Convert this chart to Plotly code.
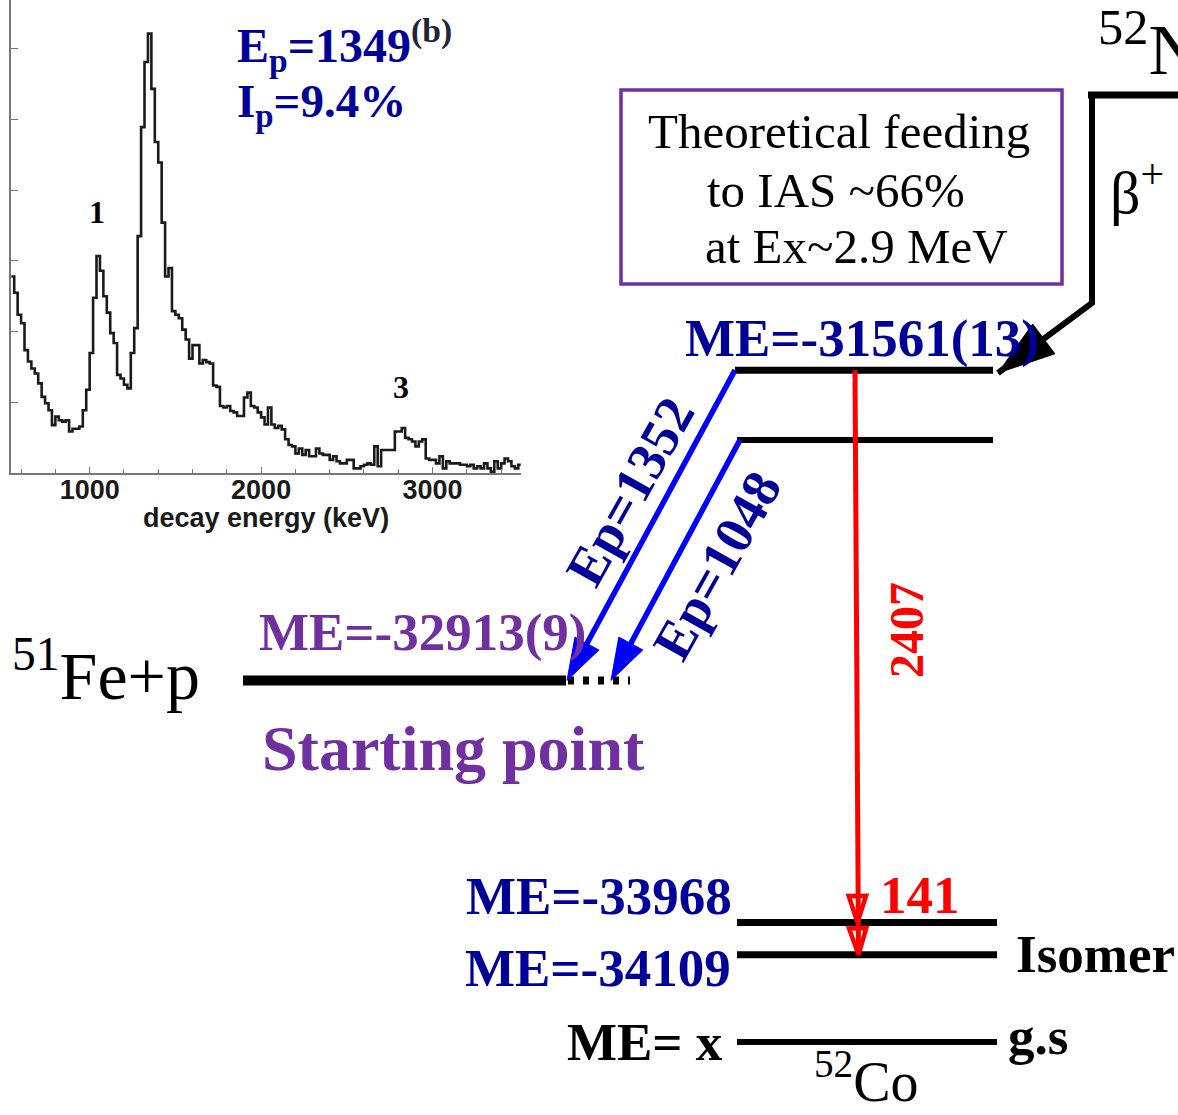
import numpy as np
import plotly.graph_objects as go

W, H = 1178, 1115
SERIF = "Liberation Serif"
SANS = "Liberation Sans"
NAVY = "#000099"
PURPLE = "#7030A0"

# ---- inset: proton decay-energy spectrum, 20 keV bins ----
bin_start_kev = 540
bin_width_kev = 20
spectrum_counts = [
    278, 255, 224, 212, 174, 158, 148, 141, 127, 108,
    99, 89, 68, 80, 75, 73, 75, 59, 63, 63,
    66, 89, 118, 170, 248, 307, 286, 250, 227, 198,
    184, 139, 134, 125, 120, 170, 205, 335, 489, 581,
    621, 543, 468, 439, 354, 278, 290, 229, 224, 219,
    203, 189, 162, 181, 181, 155, 160, 157, 155, 124,
    122, 95, 93, 95, 88, 86, 81, 81, 107, 114,
    95, 93, 86, 79, 69, 93, 69, 64, 67, 62,
    48, 40, 38, 28, 35, 26, 33, 24, 24, 35,
    28, 26, 26, 19, 24, 17, 14, 14, 19, 19,
    7, 7, 10, 12, 14, 12, 38, 10, 33, 33,
    33, 33, 59, 59, 64, 50, 48, 45, 38, 45,
    48, 21, 19, 19, 14, 24, 7, 17, 14, 14,
    14, 12, 12, 10, 12, 7, 10, 7, 14, 7,
    2, 17, 7, 14, 21, 17, 10, 7, 12,
]
energy_tick_vals = [1000, 2000, 3000]
count_tick_vals = [100, 200, 300, 400, 500, 600]
peak_tags = ["1", "3"]
peak_tag_kev = [1040, 2815]
peak_tag_counts = [369, 122]
ias_ep_kev = 1349
ias_ip_pct = 9.4

# ---- level scheme (mass excess, keV) ----
me_ias, me_ias_err = -31561, 13
me_threshold, me_threshold_err = -32913, 9
proton_ep = [1352, 1048]
gamma_kev = [2407, 141]
ias_feeding_pct = 66
ias_ex_mev = 2.9

me_second = me_threshold + proton_ep[1]
me_co_excited = me_ias - gamma_kev[0]
me_co_isomer = me_co_excited - gamma_kev[1]

edges = bin_start_kev + bin_width_kev * np.arange(len(spectrum_counts) + 1)
step_y = spectrum_counts + [spectrum_counts[-1]]

fig = go.Figure()

# histogram (inset)
fig.add_trace(go.Scatter(
    x=edges, y=step_y, mode="lines", line=dict(color="#1a1a1a", width=2.6, shape="hv"),
    xaxis="x", yaxis="y", hoverinfo="skip", showlegend=False,
))


def level(x0, x1, y, width, yaxis="y2", dash="solid"):
    fig.add_trace(go.Scatter(
        x=[x0, x1], y=[y, y], mode="lines", xaxis="x2", yaxis=yaxis,
        line=dict(color="black", width=width, dash=dash),
        hoverinfo="skip", showlegend=False,
    ))


def arrow_path(xs, ys, color, width, head_size, symbol="arrow", yaxis="y2",
               backoff=None, head_line=0):
    """Polyline whose final (and flagged) points carry an arrowhead marker."""
    n = len(xs)
    if isinstance(symbol, str):
        symbols = ["circle"] * (n - 1) + [symbol]
    else:
        symbols = symbol
    opac = [0 if s == "circle" else 1 for s in symbols]
    line = dict(color=color, width=width)
    if backoff is not None:
        line["backoff"] = backoff
    fig.add_trace(go.Scatter(
        x=xs, y=ys, mode="lines+markers", xaxis="x2", yaxis=yaxis, line=line,
        marker=dict(symbol=symbols, size=head_size, color=color, opacity=opac,
                    angleref="previous", line=dict(color=color, width=head_line)),
        hoverinfo="skip", showlegend=False,
    ))


# levels placed on the mass-excess axis
level(735, 993, me_ias, 7)
level(737, 993, me_second, 6)
level(243, 566, me_threshold, 10)
level(568, 630, me_threshold, 8, dash="6px,9px")
level(737, 997, me_co_excited, 7)
level(737, 997, me_co_isomer, 7)
# schematic lines (no mass value)
level(737, 997, 1042, 6, yaxis="y3")
level(1088, 1190, 95, 7, yaxis="y3")

# proton emission from the IAS and from the lower state
arrow_path([735, 567], [me_ias, me_threshold], "#0000FF", 5.5, 44, head_line=1)
arrow_path([740, 611], [me_second, me_threshold], "#0000FF", 5.5, 44, head_line=1)
# gamma cascade through the 141 keV step
arrow_path([855, 857.5, 858.5], [me_ias, me_co_excited, me_co_isomer], "#FF0000", 5, 28,
           symbol=["circle", "arrow-open", "arrow-open"], backoff=0, head_line=4.5)
# beta decay of 52Ni
arrow_path([1092, 1092, 998], [92, 303, 373], "black", 6, 60, yaxis="y3", head_line=1)

annotations = []


def label(x, y, text, size, color="black", bold=False, angle=0, xanchor="center",
          yanchor="middle", family=SERIF, xref="x2", yref="y3"):
    annotations.append(dict(
        xref=xref, yref=yref, x=x, y=y, text=text, showarrow=False, textangle=angle,
        xanchor=xanchor, yanchor=yanchor,
        font=dict(family=family, size=size, color=color, weight="bold" if bold else "normal"),
    ))


# inset texts
for tag, e, c in zip(peak_tags, peak_tag_kev, peak_tag_counts):
    label(e, c, tag, 32, bold=True, xref="x", yref="y")
label(235, 45, f"E<sub>p</sub>={ias_ep_kev}<sup><span style='color:#23233a'>(b)</span></sup>",
      48, NAVY, bold=True, xanchor="left")
label(235, 104, f"I<sub>p</sub>={ias_ip_pct}%", 47, NAVY, bold=True, xanchor="left")
label(266, 518, "decay energy (keV)", 27, "#1a1a1a", bold=True, family=SANS)

# level-scheme texts
label(839, 131, "Theoretical feeding", 49)
label(836, 190, f"to IAS ~{ias_feeding_pct}%", 49)
label(856, 246, f"at Ex~{ias_ex_mev} MeV", 49)
label(1096, 44, "<sup>52</sup>Ni", 72, xanchor="left")
label(1108, 188, "β<sup>+</sup>", 60, xanchor="left")
label(862, 338, f"ME={me_ias}({me_ias_err})", 53, NAVY, bold=True)
label(423, 632, f"ME={me_threshold}({me_threshold_err})", 53, PURPLE, bold=True)
label(453, 748, "Starting point", 64, PURPLE, bold=True)
label(10, 671, "<sup>51</sup>Fe+p", 68, xanchor="left")
label(630, 492, f"Ep={proton_ep[0]}", 54, NAVY, bold=True, angle=-60.8)
label(717, 566, f"Ep={proton_ep[1]}", 54, NAVY, bold=True, angle=-60.8)
label(906, 630, f"{gamma_kev[0]}", 48, "#FF0000", bold=True, angle=-90)
label(920, 895, f"{gamma_kev[1]}", 53, "#FF0000", bold=True)
label(599, 896, f"ME={me_co_excited}", 53, NAVY, bold=True)
label(598, 968, f"ME={me_co_isomer}", 53, NAVY, bold=True)
label(1095, 954, "Isomer", 53, bold=True)
label(645, 1042, "ME= x", 53, bold=True)
label(1038, 1036, "g.s", 53, bold=True)
label(812, 1077, "<sup>52</sup>Co", 56, xanchor="left")

fig.update_layout(
    width=W, height=H, margin=dict(l=0, r=0, t=0, b=0),
    paper_bgcolor="white", plot_bgcolor="rgba(0,0,0,0)",
    font=dict(family=SERIF), hovermode=False, showlegend=False,
    xaxis=dict(
        domain=[11.3 / W, 520.7 / W], anchor="y", range=[543, 3514],
        showgrid=False, zeroline=False, showline=True, linecolor="#777", linewidth=1.5,
        ticks="inside", ticklen=7, tickwidth=1.2, tickcolor="#777",
        tickvals=energy_tick_vals, ticklabelstandoff=-8,
        tickfont=dict(family=SANS, size=27, color="#1a1a1a", weight="bold"),
        minor=dict(ticks="inside", ticklen=5, tickwidth=1.2, tickcolor="#777",
                   dtick=200, tick0=0, showgrid=False),
    ),
    yaxis=dict(
        domain=[1 - 473.3 / H, 1], anchor="x", range=[0, 668.5],
        showgrid=False, zeroline=False, showline=True, linecolor="#777", linewidth=1.5,
        ticks="inside", ticklen=7, tickwidth=1.2, tickcolor="#777",
        tickvals=count_tick_vals, showticklabels=False,
    ),
    xaxis2=dict(domain=[0, 1], anchor="y2", range=[0, W], visible=False),
    yaxis2=dict(domain=[0, 1], anchor="x2", range=[-34807, -29948], visible=False),
    yaxis3=dict(overlaying="y2", anchor="x2", range=[H, 0], visible=False),
    shapes=[dict(type="rect", xref="x2", yref="y3", x0=621, y0=90, x1=1062, y1=284,
                 line=dict(color=PURPLE, width=3.5), fillcolor="rgba(0,0,0,0)")],
    annotations=annotations,
)

fig.write_html("out.html")
